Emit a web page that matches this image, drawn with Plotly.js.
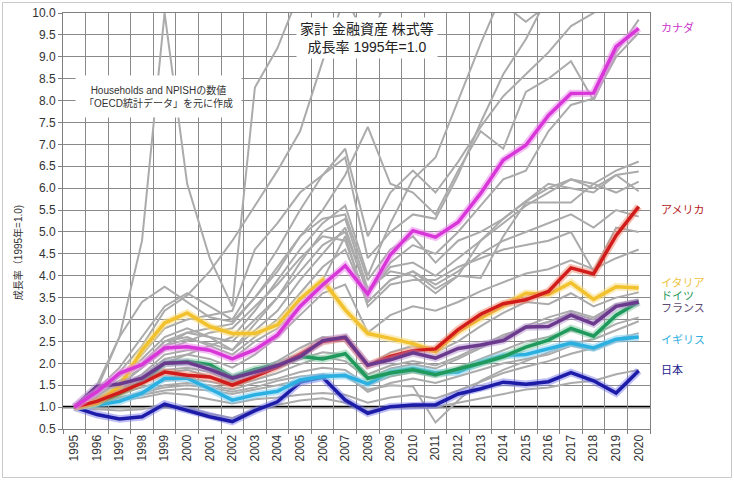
<!DOCTYPE html>
<html>
<head>
<meta charset="utf-8">
<script src="https://cdn.plot.ly/plotly-3.0.1.min.js"></script>
<style>
html,body{margin:0;padding:0;background:#fff;}
#chart{width:734px;height:480px;}
</style>
</head>
<body>
<div id="chart"></div>
<script>
// ---- categories ----
const years = ["1995","1996","1997","1998","1999","2000","2001","2002","2003","2004","2005","2006","2007","2008","2009","2010","2011","2012","2013","2014","2015","2016","2017","2018","2019","2020"];

// ---- highlighted series (growth rate, 1995 = 1.0) ----
const japan   = [1.0,0.83,0.73,0.78,1.07,0.93,0.78,0.67,0.92,1.12,1.57,1.68,1.16,0.86,1.01,1.05,1.05,1.3,1.42,1.57,1.52,1.58,1.79,1.6,1.32,1.83];
const uk      = [1.0,1.05,1.13,1.32,1.66,1.66,1.42,1.16,1.28,1.36,1.62,1.70,1.72,1.53,1.80,1.88,1.78,1.80,2.02,2.18,2.2,2.33,2.46,2.35,2.55,2.6];
const germany = [1.0,1.1,1.3,1.57,2.0,2.04,1.97,1.68,1.86,1.96,2.16,2.1,2.22,1.66,1.78,1.85,1.74,1.86,2.0,2.15,2.37,2.53,2.8,2.62,3.1,3.4];
const france  = [1.0,1.47,1.53,1.66,2.0,2.02,1.86,1.66,1.8,1.95,2.15,2.52,2.6,1.96,2.08,2.24,2.12,2.34,2.42,2.52,2.83,2.84,3.1,2.9,3.3,3.4];
const italy   = [1.0,1.1,1.47,2.3,2.92,3.15,2.84,2.68,2.68,2.88,3.47,3.9,3.22,2.68,2.57,2.45,2.27,2.72,3.03,3.32,3.6,3.57,3.84,3.46,3.75,3.72];
const usa     = [1.0,1.13,1.33,1.55,1.8,1.73,1.69,1.5,1.7,1.92,2.2,2.5,2.58,1.95,2.16,2.29,2.33,2.77,3.12,3.36,3.45,3.64,4.18,4.04,4.92,5.58];
const canada  = [1.0,1.35,1.77,1.97,2.35,2.38,2.3,2.1,2.31,2.65,3.3,3.79,4.23,3.58,4.48,5.03,4.88,5.22,5.88,6.64,6.98,7.66,8.16,8.17,9.23,9.65];

// ---- other OECD countries (grey) ----
const ga  = [1,0.95,0.92,0.95,1.05,0.98,0.85,0.75,0.95,1.05,1.15,1.2,1.1,0.9,1.0,1.05,1.0,1.1,1.2,1.3,1.4,1.45,1.55,1.6,1.75,1.85];
const gb  = [1,1.05,1.15,1.22,1.32,1.28,1.18,1.08,1.18,1.22,1.28,1.32,1.28,1.1,1.22,1.28,1.2,1.38,1.58,1.78,1.92,2.05,2.22,2.35,2.55,2.69];
const gc  = [1,1.1,1.22,1.32,1.45,1.5,1.45,1.35,1.45,1.6,1.7,1.75,1.7,1.4,1.5,1.47,0.65,1.15,1.6,1.85,2.05,2.25,2.45,2.55,2.75,2.96];
const gd  = [1,1.05,1.2,1.35,1.5,1.55,1.5,1.4,1.55,1.65,1.8,1.9,1.85,1.5,1.7,1.8,1.7,1.9,2.1,2.3,2.5,2.6,2.75,2.65,2.9,3.05];
const ge  = [1,1.15,1.3,1.45,1.6,1.65,1.58,1.48,1.62,1.78,1.98,2.15,2.05,1.65,1.88,1.98,1.88,2.1,2.35,2.6,2.85,3.05,3.2,3.05,3.35,3.45];
const gf  = [1,1.2,1.4,1.6,1.85,1.9,1.8,1.6,1.85,2.05,2.35,2.6,2.55,1.95,2.25,2.4,2.25,2.5,2.85,3.15,3.4,3.35,3.6,3.3,3.5,3.62];
const gg  = [1,1.3,1.6,2.0,2.5,2.6,2.4,2.2,2.6,3.0,3.6,4.2,4.6,3.4,3.9,4.1,3.8,4.1,4.5,4.8,5.0,5.2,5.4,5.1,5.5,5.35];
const gh  = [1,1.2,1.45,1.75,2.2,2.3,2.3,2.1,2.5,2.8,3.3,3.9,4.9,3.3,3.8,3.9,3.9,4.2,4.4,4.6,4.7,4.8,5.0,4.1,5.1,5.0];
const gi  = [1,1.25,1.55,1.9,2.4,2.55,2.45,2.3,2.75,3.2,3.9,4.5,5.1,3.6,4.2,4.3,4.0,4.4,4.8,5.2,5.6,5.9,6.2,6.0,6.3,6.38];
const gj  = [1,1.15,1.4,1.7,2.1,2.2,2.1,1.9,2.2,2.6,3.1,3.6,3.8,2.7,3.1,3.3,3.2,3.4,3.65,3.85,4.05,4.15,4.35,4.15,4.4,4.6];
const gk  = [1,1.3,1.7,2.1,2.6,2.8,2.6,2.3,2.9,3.5,4.3,5.0,5.3,3.7,4.1,4.0,3.6,4.0,4.8,5.3,5.7,6.0,6.2,6.1,6.4,6.61];
const gl  = [1,1.2,1.5,1.9,2.3,2.5,2.7,2.8,3.3,3.8,4.4,4.9,4.8,3.4,3.9,4.1,3.7,4.0,3.95,4.9,5.67,5.67,5.67,6.1,5.9,6.15];
const gm  = [1,1.08,1.18,1.28,1.38,1.42,1.38,1.3,1.4,1.5,1.62,1.72,1.75,1.35,1.55,1.65,1.55,1.7,1.85,2.0,2.1,2.2,2.4,2.3,2.5,2.6];
const gn  = [1,1.12,1.35,1.55,1.78,1.85,1.7,1.55,1.72,1.9,2.1,2.25,2.2,1.75,1.95,2.05,1.95,2.15,2.4,2.65,2.8,2.95,3.15,3.0,3.3,3.4];
const go  = [1,1.5,2.6,3.4,3.75,3.4,3.05,2.95,3.5,4.1,4.9,5.3,5.4,3.9,4.6,4.9,4.3,4.8,5.0,5.3,5.7,6.1,6.0,5.9,6.3,5.93];
const gp  = [1,1.2,1.5,1.9,2.4,2.7,2.8,2.9,3.5,4.2,4.9,5.5,6.3,7.4,6.1,5.9,5.4,6.4,7.3,6.9,8.2,8.5,8.9,8.0,9.1,9.85];
const gq  = [1,1.3,1.7,2.2,2.8,3.0,3.1,3.2,4.6,5.2,5.9,6.3,6.7,4.4,5.0,5.4,5.3,6.3,7.5,8.6,9.4,10.4,11,11.5,12,12];
const gr  = [1,1.1,1.3,1.6,2.0,2.2,2.4,2.6,3.2,3.9,4.6,5.2,5.6,4.0,5.2,6.2,6.7,8.0,9.3,10.5,11,11.5,12,12,12.5,13];
const gs  = [1,1.3,1.6,2.0,2.5,2.7,2.6,2.5,3.0,3.5,4.1,4.7,5.0,3.6,4.3,4.7,4.5,5.0,5.6,6.2,6.4,7.3,7.9,8.05,9.0,9.55];
const gt  = [1,1.4,1.9,2.6,3.3,3.6,3.3,3.0,3.8,4.6,5.5,6.3,6.9,4.9,5.9,6.4,5.9,6.6,7.4,8.1,8.6,9.1,9.7,10.0,10.6,11];
const gu  = [1,1.4,2.6,4.8,10.0,6.1,4.4,3.3,8.3,9.2,10.5,11,11.5,10.5,11,11.5,11,11.5,12,10.2,9.8,10.2,11,11.5,12,12];
const gv  = [1,1.3,1.8,2.4,3.2,3.55,4.1,4.8,5.6,6.4,7.3,8.9,10.4,9.3,10.5,11,11.5,12,13,13,13,13,13,13,13,13];

const greySeries = [ga,gb,gc,gd,ge,gf,gg,gh,gi,gj,gk,gl,gm,gn,go,gp,gq,gr,gs,gt,gu,gv];

// label names
const names = ["日本","イギリス","ドイツ","フランス","イタリア","アメリカ","カナダ"];

const traces = [];
greySeries.forEach(s => {
  traces.push({x: years, y: s, type: 'scatter', mode: 'lines',
    line: {color: '#ababab', width: 2}, hoverinfo: 'skip'});
});

const hl = [
  {y: japan,   core: '#1c1ca8', halo: 'rgba(110,110,230,0.45)'},
  {y: uk,      core: '#2bb0e2', halo: 'rgba(130,205,240,0.55)'},
  {y: germany, core: '#1f9a5c', halo: 'rgba(110,195,150,0.45)'},
  {y: italy,   core: '#f2c12e', halo: 'rgba(248,220,130,0.55)'},
  {y: usa,     core: '#d21c1c', halo: 'rgba(235,120,90,0.45)'},
  {y: france,  core: '#6b3a8e', halo: 'rgba(170,130,200,0.45)'},
  {y: canada,  core: '#d936d9', halo: 'rgba(235,140,235,0.55)'}
];
hl.forEach(h => {
  traces.push({x: years, y: h.y, type: 'scatter', mode: 'lines',
    line: {color: h.halo, width: 7.5}, hoverinfo: 'skip'});
  traces.push({x: years, y: h.y, type: 'scatter', mode: 'lines',
    line: {color: h.core, width: 3.5}, hoverinfo: 'skip'});
});

const labelFont = "'Liberation Sans', 'Noto Sans CJK JP', sans-serif";
const rightLabels = [
  {text: 'カナダ',   y: 9.66, color: '#cc33cc'},
  {text: 'アメリカ', y: 5.50, color: '#b52020'},
  {text: 'イタリア', y: 3.84, color: '#eec23a'},
  {text: 'ドイツ',   y: 3.54, color: '#1f9a5c'},
  {text: 'フランス', y: 3.27, color: '#5e4a72'},
  {text: 'イギリス', y: 2.54, color: '#30aee0'},
  {text: '日本',     y: 1.85, color: '#1c1c8c'}
];

const annotations = rightLabels.map(l => ({
  text: l.text, xref: 'paper', x: 1.0153, xanchor: 'left',
  yref: 'y', y: l.y, yanchor: 'middle', showarrow: false,
  font: {family: labelFont, size: 11, color: l.color}
}));

annotations.push({
  text: '家計 金融資産 株式等<br>成長率 1995年=1.0',
  xref: 'paper', x: 0.518, xanchor: 'center',
  yref: 'paper', y: 0.94, yanchor: 'middle', showarrow: false,
  bgcolor: '#ffffff', borderpad: 3,
  font: {family: labelFont, size: 14, color: '#222'}
});
annotations.push({
  text: 'Households and NPISHの数値<br>「OECD統計データ」を元に作成',
  xref: 'paper', x: 0.162, xanchor: 'center',
  yref: 'paper', y: 0.80, yanchor: 'middle', showarrow: false,
  bgcolor: '#ffffff', borderpad: 8,
  font: {family: labelFont, size: 10, color: '#333'}
});
annotations.push({
  text: '成長率（1995年=1.0)',
  xref: 'paper', x: -0.0767, xanchor: 'center',
  yref: 'paper', y: 0.425, yanchor: 'middle', showarrow: false,
  textangle: -90,
  font: {family: labelFont, size: 10, color: '#333'}
});

const layout = {
  width: 734, height: 480,
  margin: {l: 63, r: 84, t: 13, b: 51},
  paper_bgcolor: '#ffffff', plot_bgcolor: '#ffffff',
  showlegend: false, hovermode: false,
  font: {family: labelFont, color: '#333'},
  xaxis: {
    type: 'category', range: [-0.5, 25.5], tickson: 'boundaries',
    ticks: 'outside', ticklen: 4, tickcolor: '#808080',
    showgrid: true, gridcolor: '#8a8a8a', gridwidth: 1,
    tickangle: -90, tickfont: {size: 12, color: '#333'},
    showline: true, linecolor: '#808080', mirror: true, zeroline: false
  },
  yaxis: {
    range: [0.5, 10], tick0: 0.5, dtick: 0.5, tickformat: '.1f',
    ticks: 'outside', ticklen: 4, tickcolor: '#808080',
    showgrid: true, gridcolor: '#8a8a8a', gridwidth: 1,
    tickfont: {size: 12, color: '#333'},
    showline: true, linecolor: '#808080', mirror: true, zeroline: false
  },
  shapes: [
    {type: 'line', xref: 'paper', x0: 0, x1: 1, yref: 'y', y0: 1, y1: 1,
     line: {color: '#000000', width: 2.5}, layer: 'between'},
    {type: 'rect', xref: 'paper', x0: -0.1031, x1: 1.1388, yref: 'paper', y0: -0.1166, y1: 1.0252,
     line: {color: '#c8c8c8', width: 1}, fillcolor: 'rgba(0,0,0,0)', layer: 'above'}
  ],
  annotations: annotations
};

Plotly.newPlot('chart', traces, layout, {staticPlot: true, displayModeBar: false});
</script>
</body>
</html>
